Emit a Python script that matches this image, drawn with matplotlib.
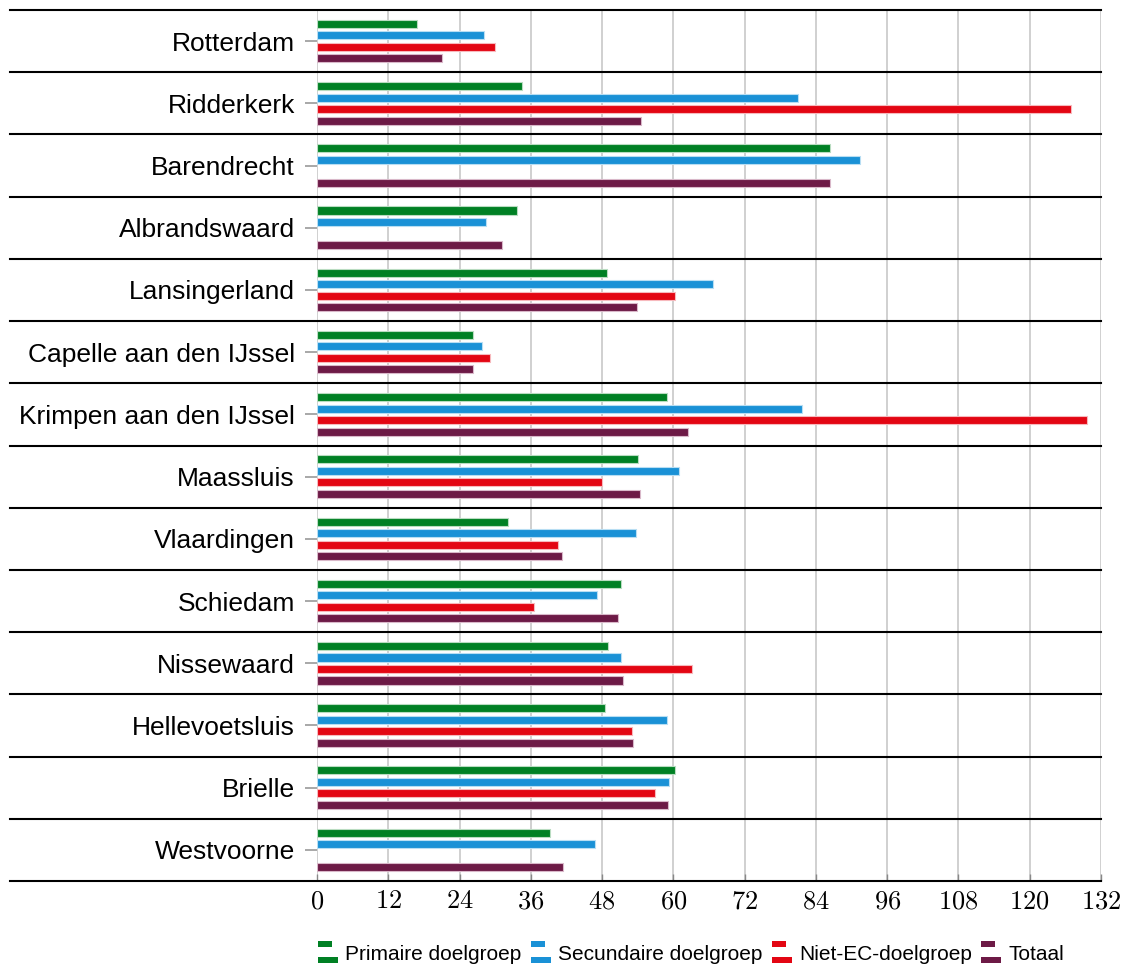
import numpy as np
import matplotlib
matplotlib.use("Agg")
import matplotlib.pyplot as plt
from matplotlib.patches import Rectangle, Patch
from matplotlib.legend_handler import HandlerBase
from matplotlib.lines import Line2D
import matplotlib.transforms as mtrans

plt.rcParams['font.family'] = ['Liberation Sans', 'DejaVu Sans']
plt.rcParams['mathtext.fontset'] = 'cm'

categories = ["Rotterdam", "Ridderkerk", "Barendrecht", "Albrandswaard", "Lansingerland",
              "Capelle aan den IJssel", "Krimpen aan den IJssel", "Maassluis", "Vlaardingen",
              "Schiedam", "Nissewaard", "Hellevoetsluis", "Brielle", "Westvoorne"]
series_names = ["Primaire doelgroep", "Secundaire doelgroep", "Niet-EC-doelgroep", "Totaal"]
primaire = [16.8, 34.5, 86.3, 33.7, 48.9, 26.2, 58.9, 54.1, 32.1, 51.2, 49.0, 48.5, 60.2, 39.2]
secundaire = [28.2, 81.0, 91.5, 28.5, 66.7, 27.8, 81.6, 60.9, 53.7, 47.1, 51.1, 59.0, 59.3, 46.8]
niet_ec = [30.0, 127.0, None, None, 60.2, 29.2, 129.6, 48.0, 40.6, 36.5, 63.1, 53.0, 56.9, None]
totaal = [21.0, 54.5, 86.3, 31.2, 53.9, 26.3, 62.5, 54.3, 41.2, 50.6, 51.5, 53.2, 59.1, 41.5]
x_ticks = [0, 12, 24, 36, 48, 60, 72, 84, 96, 108, 120, 132]

colors = ["#008024", "#1a91d6", "#e30613", "#6d1a46"]
edges = ["#b9dcc1", "#b8def3", "#f7b9bd", "#d9b8c9"]

fig = plt.figure(figsize=(11.24, 9.66), dpi=100)
ax = fig.add_axes([317 / 1124, 85 / 966, 784 / 1124, 871 / 966])

n = len(categories)
y = np.arange(n)
offsets = [-0.277, -0.0925, 0.0925, 0.277]
all_series = [primaire, secundaire, niet_ec, totaal]
for vals, off, c, e, name in zip(all_series, offsets, colors, edges, series_names):
    v = np.array([np.nan if a is None else a for a in vals], dtype=float)
    ax.barh(y + off, v, height=0.13, color=c, edgecolor=e, linewidth=0.8, label=name, zorder=3)

ax.set_xlim(0, 132)
ax.set_ylim(n - 0.5, -0.5)
ax.set_xticks(x_ticks)
ax.set_xticklabels([f"${t}$" for t in x_ticks], fontsize=19)
ax.set_yticks(y)
ax.set_yticklabels(categories, fontsize=19)
ax.tick_params(axis='y', length=9, width=1.2, color='#999999', pad=7)
ax.tick_params(axis='x', length=5, width=1.0, color='#888888', direction='in', pad=6)
for s in ax.spines.values():
    s.set_visible(False)
ax.xaxis.grid(True, color='#c8c8c8', linewidth=1.2, zorder=0)
ax.set_axisbelow(True)

# separators
trans = mtrans.blended_transform_factory(ax.transAxes, ax.transData)
x0 = (10 - 317) / 784
for b in np.arange(-0.5, n, 1.0):
    ax.add_line(Line2D([x0, 1.0], [b, b], transform=trans, color='black', linewidth=1.5,
                       clip_on=False, zorder=4))


class BarIcon(HandlerBase):
    def create_artists(self, legend, orig_handle, xdescent, ydescent, width, height, fontsize, trans):
        c = orig_handle.get_facecolor()
        cy = -ydescent + height / 2.0
        h = 4.4
        r1 = Rectangle((-xdescent, cy + 6.0 - h / 2), width * 0.7, h,
                       facecolor=c, edgecolor='none', transform=trans)
        r2 = Rectangle((-xdescent, cy - 5.6 - h / 2), width, h,
                       facecolor=c, edgecolor='none', transform=trans)
        return [r1, r2]


handles = [Patch(facecolor=c) for c in colors]
fig.legend(handles, series_names, loc='center', bbox_to_anchor=(691 / 1124, 12 / 966),
           ncol=4, frameon=False, fontsize=15, handlelength=0.97, handletextpad=0.33,
           columnspacing=0.45, handler_map={Patch: BarIcon()})

fig.savefig("out.png", dpi=100)
